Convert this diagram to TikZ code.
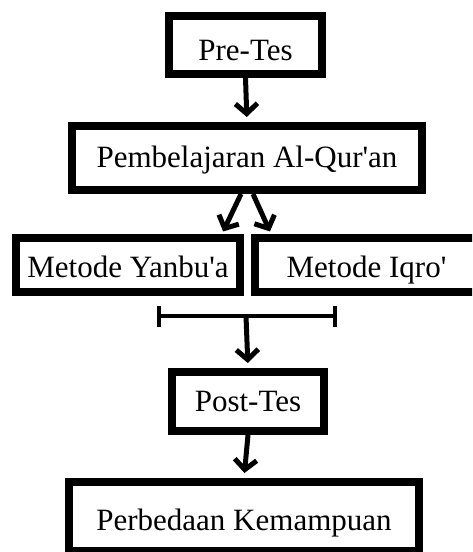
\documentclass[tikz,border=0pt]{standalone}
\usepackage{fontspec}
\setmainfont{Liberation Serif}
\usetikzlibrary{arrows.meta,positioning}

\tikzset{
    flowbox/.style={draw, line width=8pt, inner sep=0pt, text depth=0pt, text height=20.5pt, font=\fontsize{31}{36}\selectfont},
    flowarrow/.style={line width=5pt, -{Straight Barb[length=10pt,width=22pt]}, shorten >=5pt},
    bracket/.style={line width=4pt, {Bar[width=21pt]}-{Bar[width=21pt]}}
}
\newcommand{\apos}{\textquotesingle}

\begin{document}
\begin{tikzpicture}[x=1pt,y=-1pt]
    \useasboundingbox (0,0) rectangle (472,552);
    \clip (0,0) rectangle (472,552);

    % boxes
    \node[flowbox, minimum width=153pt, minimum height=58pt, text height=30.5pt] (pre) at (245.5,45) {Pre-Tes};
    \node[flowbox, minimum width=350pt, minimum height=64pt, text depth=2pt] (pemb) at (247,158) {Pembelajaran Al-Qur\apos an};
    \node[flowbox, minimum width=224pt, minimum height=54pt, text height=25.5pt] (yanbu) at (128,265) {Metode Yanbu\apos a};
    \node[flowbox, minimum width=223pt, minimum height=54pt, text height=25.5pt] (iqro) at (366.5,265) {Metode Iqro\apos};
    \node[flowbox, minimum width=152pt, minimum height=59pt] (post) at (248,401.5) {Post-Tes};
    \node[flowbox, minimum width=350pt, minimum height=69pt, text height=27.5pt] (perb) at (244,516.5) {Perbedaan Kemampuan};

    % free ends
    \coordinate (ya) at (221,236);
    \coordinate (yb) at (272,236);
    \coordinate (bl) at (157,316);
    \coordinate (br) at (337,316);
    \coordinate (bm) at (246,316);

    % arrows
    \draw[flowarrow] (pre.south) -- (pemb.north);
    \draw[flowarrow] ([xshift=-6pt]pemb.south) -- (ya);
    \draw[flowarrow] ([xshift=6pt]pemb.south) -- (yb);
    \draw[bracket] (bl) -- (br);
    \draw[flowarrow] (bm) -- (post.north);
    \draw[flowarrow] (post.south) -- (perb.north);
\end{tikzpicture}
\end{document}
